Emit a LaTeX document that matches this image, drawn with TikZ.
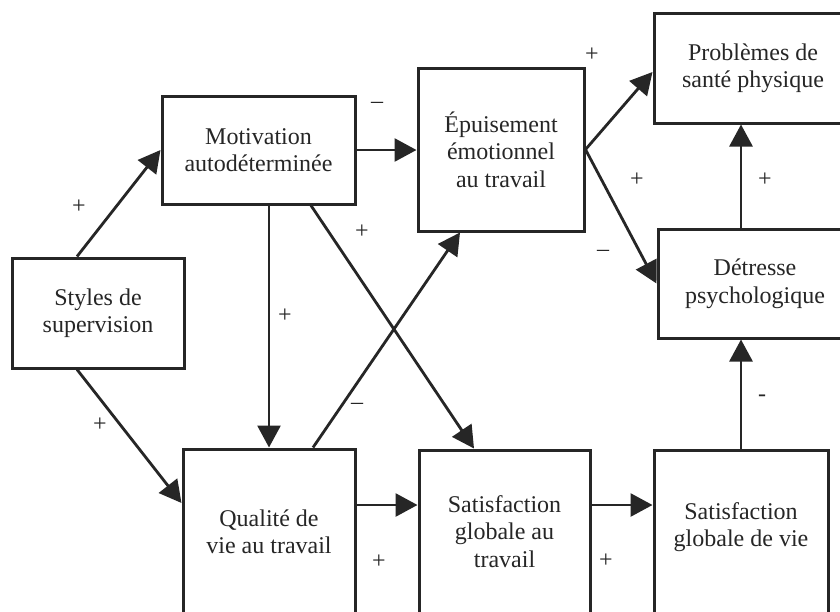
\documentclass[tikz,border=0pt]{standalone}
\usepackage{fontspec}
\setmainfont{Liberation Serif}
\usetikzlibrary{arrows.meta}
\definecolor{ink}{HTML}{262626}
\begin{document}
\begin{tikzpicture}[x=0.5pt,y=-0.5pt,
  txt/.style={text=ink,font=\fontsize{12}{13.75}\selectfont,align=center},
  box/.style={txt,draw=ink,line width=1.5pt,rectangle,inner sep=0pt},
  lbl/.style={txt,inner sep=0pt},
  arr/.style={draw=ink,line width=1.4pt,-{Triangle[length=11pt,width=11.5pt]}},
  sign/.style={txt,inner sep=0pt}]
\useasboundingbox (0,0) rectangle (840,611);
\clip (0,0) rectangle (840,611);
\fill[white] (0,0) rectangle (840,611);

% boxes
\node[box,minimum width=86pt,minimum height=55pt] (sty) at (98,313) {Styles de\\supervision};
\node[box,minimum width=96.5pt,minimum height=54pt] (mot) at (258.5,150) {Motivation\\autodéterminée};
\node[box,minimum width=83pt,minimum height=81.5pt] (epu) at (501,149.5) {Épuisement\\émotionnel\\au travail};
\node[box,minimum width=99pt,minimum height=55pt] (pro) at (753,68) {Problèmes de\\santé physique};
\node[box,minimum width=97pt,minimum height=54.5pt] (det) at (755,283.5) {Détresse\\psychologique};
\node[box,minimum width=86pt,minimum height=90pt,
  label={[lbl,yshift=3.5pt]center:{Qualité de\\vie au travail}}] (qua) at (269,539) {};
\node[box,minimum width=85.5pt,minimum height=90pt,
  label={[lbl,yshift=4.25pt]center:{Satisfaction\\globale au\\travail}}] (sat) at (504.5,540) {};
\node[box,minimum width=87pt,minimum height=90pt,
  label={[lbl,yshift=6.5pt]center:{Satisfaction\\globale de vie}}] (vie) at (741,540) {};

% helper points on the borders
\coordinate (q1) at ([yshift=17pt]qua.east);
\coordinate (s1) at ([yshift=17.5pt]sat.east);

% connectors
\draw[arr] ([xshift=-10.5pt]sty.north) -- (mot.west);
\draw[arr] ([xshift=-10.5pt]sty.south) -- ([yshift=18pt]qua.west);
\draw[arr] (mot.east) -- (mot.east -| epu.west);
\draw[arr] (qua.north |- mot.south) -- (qua.north);
\draw[arr] ([xshift=26.25pt]mot.south) -- ([xshift=-15.25pt]sat.north);
\draw[arr] ([xshift=22pt]qua.north) -- ([xshift=-20.5pt]epu.south);
\draw[arr] (q1) -- (q1 -| sat.west);
\draw[arr] (s1) -- (s1 -| vie.west);
\draw[arr] (vie.north) -- (vie.north |- det.south);
\draw[arr] (vie.north |- det.north) -- (vie.north |- pro.south);
\draw[arr] (epu.east) -- ([yshift=-2pt]pro.west);
\draw[arr] (epu.east) -- (det.west);

% signs
\node[sign] (l1) at (79,207) {+};
\node[sign] (l2) at (377,105) {\textendash};
\node[sign] (l3) at (362,232) {+};
\node[sign] (l4) at (285,316) {+};
\node[sign] (l5) at (357,406) {\textendash};
\node[sign] (l6) at (100,425) {+};
\node[sign] (l7) at (379,562) {+};
\node[sign] (l8) at (592,55) {+};
\node[sign] (l9) at (637,180) {+};
\node[sign] (l10) at (765,180) {+};
\node[sign] (l11) at (603,253) {\textendash};
\node[sign] (l12) at (762,398) {-};
\node[sign] (l13) at (606,561) {+};
\end{tikzpicture}
\end{document}
